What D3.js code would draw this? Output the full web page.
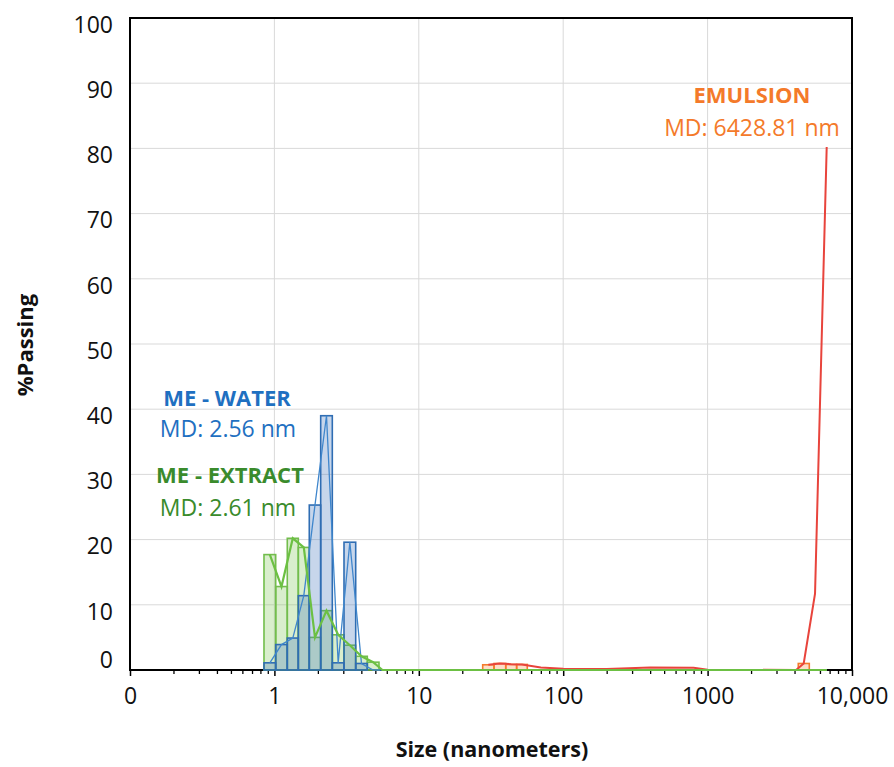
<!DOCTYPE html>
<html>
<head>
<meta charset="utf-8">
<script src="https://cdn.jsdelivr.net/npm/d3@7"></script>
<style>
  body { margin: 0; background: #fff; }
  text { font-family: "Open Sans", sans-serif; }
</style>
</head>
<body>
<div id="app"></div>
<script>
const width = 894,
  height = 767,
  margin = { top: 18, right: 42, bottom: 97, left: 130 };

// bin edges (nm) shared by the two ME samples
const binEdges = [0.847, 1.021, 1.228, 1.464, 1.744, 2.092, 2.518, 3.034, 3.656, 4.399, 5.3];
const waterValues = [1.1, 3.9, 4.9, 11.4, 25.3, 39.0, 1.1, 19.6, 1.0, 0];
const extractValues = [17.7, 12.8, 20.2, 18.8, 5.0, 9.1, 5.4, 3.8, 2.1, 1.2];

// emulsion bins and line
const emulsionEdges = [[27.7, 33.2], [33.2, 40.0], [40.0, 47.6], [47.6, 56.4], [4246, 5061]];
const emulsionValues = [0.8, 1.0, 0.85, 0.85, 1.0];
const emulsionLineSize = [30.3, 36.4, 43.6, 51.8, 70, 100, 200, 400, 800, 1000, 4100, 4630, 5546, 6680];
const emulsionLineValue = [0.8, 1.0, 0.9, 0.85, 0.4, 0.2, 0.15, 0.4, 0.35, 0.05, 0, 1.0, 11.7, 80.2];

const tailSize = [5.6, 6700]; // lines continue along zero

const xMajor = [0.1, 1, 10, 100, 1000, 10000];
const xLabels = ["0", "1", "10", "100", "1000", "10,000"];
const yTicks = [0, 10, 20, 30, 40, 50, 60, 70, 80, 90, 100];

const xScale = d3.scaleLog().domain([0.1, 10000]).range([margin.left, width - margin.right]);
const yScale = d3.scaleLinear().domain([0, 100]).range([height - margin.bottom, margin.top]);

const svg = d3.select("#app").append("svg").attr("width", width).attr("height", height);

// gridlines
svg.append("g")
  .selectAll("line")
  .data(yTicks.slice(1, -1))
  .join("line")
  .attr("x1", margin.left).attr("x2", width - margin.right)
  .attr("y1", (d) => yScale(d)).attr("y2", (d) => yScale(d))
  .attr("stroke", "#d9d9d9").attr("stroke-width", 1);
svg.append("g")
  .selectAll("line")
  .data(xMajor.slice(1, -1))
  .join("line")
  .attr("x1", (d) => xScale(d)).attr("x2", (d) => xScale(d))
  .attr("y1", margin.top).attr("y2", height - margin.bottom)
  .attr("stroke", "#d9d9d9").attr("stroke-width", 1);

// frame
svg.append("rect")
  .attr("x", margin.left).attr("y", margin.top)
  .attr("width", width - margin.left - margin.right)
  .attr("height", height - margin.top - margin.bottom)
  .attr("fill", "none").attr("stroke", "#000").attr("stroke-width", 2);

// x axis: minor and major ticks
const minor = [];
xMajor.slice(0, -1).forEach((d) => { for (let k = 2; k < 10; k++) minor.push(d * k); });
svg.append("g")
  .attr("transform", `translate(0,${height - margin.bottom})`)
  .call(d3.axisBottom(xScale).tickValues(minor).tickSize(4).tickFormat(""))
  .call((g) => g.select(".domain").remove())
  .call((g) => g.selectAll("line").attr("stroke", "#000").attr("stroke-width", 1.3));
svg.append("g")
  .attr("transform", `translate(0,${height - margin.bottom})`)
  .call(d3.axisBottom(xScale).tickValues(xMajor).tickSize(6).tickPadding(12)
    .tickFormat((d, i) => xLabels[i]))
  .call((g) => g.select(".domain").remove())
  .call((g) => g.selectAll("line").attr("stroke", "#000").attr("stroke-width", 1.5))
  .call((g) => g.selectAll("text").attr("font-size", 23).attr("fill", "#111")
    .attr("font-family", "'Open Sans', sans-serif"));

// y axis
svg.append("g")
  .attr("transform", `translate(${margin.left},0)`)
  .call(d3.axisLeft(yScale).tickValues(yTicks).tickSize(0).tickPadding(17))
  .call((g) => g.select(".domain").remove())
  .call((g) => g.selectAll("text").attr("font-size", 23).attr("fill", "#111")
    .attr("font-family", "'Open Sans', sans-serif")
    .attr("dy", (d) => (d === 0 ? "-0.1em" : "0.62em")));

const bins = (vals) => vals.map((v, i) => ({ x0: binEdges[i], x1: binEdges[i + 1], v }));

const drawBars = (data, fill, stroke) =>
  svg.append("g")
    .selectAll("rect")
    .data(data.filter((d) => d.v > 0))
    .join("rect")
    .attr("x", (d) => xScale(d.x0))
    .attr("width", (d) => xScale(d.x1) - xScale(d.x0))
    .attr("y", (d) => yScale(d.v))
    .attr("height", (d) => yScale(0) - yScale(d.v))
    .attr("fill", fill)
    .attr("stroke", stroke)
    .attr("stroke-width", 1.6);

drawBars(bins(extractValues), "rgba(130,200,90,0.30)", "#72bd4c");
drawBars(bins(waterValues), "rgba(70,120,190,0.30)", "#2f6db3");

const mid = (i) => Math.sqrt(binEdges[i] * binEdges[i + 1]);
const line = d3.line().x((d) => xScale(d[0])).y((d) => yScale(d[1]));

const extractLine = extractValues.map((v, i) => [mid(i), v]).concat(tailSize.map((s) => [s, 0]));
const waterLine = waterValues.map((v, i) => [mid(i), v]).concat(tailSize.map((s) => [s, 0]));

svg.append("path").datum(waterLine).attr("d", line)
  .attr("fill", "none").attr("stroke", "#3f86cc").attr("stroke-width", 1.3);

// emulsion
svg.append("g")
  .selectAll("rect")
  .data(emulsionEdges.map((e, i) => ({ x0: e[0], x1: e[1], v: emulsionValues[i] })))
  .join("rect")
  .attr("x", (d) => xScale(d.x0))
  .attr("width", (d) => xScale(d.x1) - xScale(d.x0))
  .attr("y", (d) => yScale(d.v))
  .attr("height", (d) => yScale(0) - yScale(d.v))
  .attr("fill", "rgba(248,160,100,0.35)")
  .attr("stroke", "#f47c2c")
  .attr("stroke-width", 1.6);
svg.append("path").datum(emulsionLineSize.map((s, i) => [s, emulsionLineValue[i]])).attr("d", line)
  .attr("fill", "none").attr("stroke", "#e8443c").attr("stroke-width", 2);

svg.append("path").datum(extractLine).attr("d", line)
  .attr("fill", "none").attr("stroke", "#6cc043").attr("stroke-width", 2.2);

// axis titles
svg.append("text")
  .attr("x", 492).attr("y", 757)
  .attr("text-anchor", "middle")
  .attr("font-size", 21.5).attr("font-weight", "bold").attr("fill", "#111")
  .text("Size (nanometers)");
svg.append("text")
  .attr("transform", "translate(33,345) rotate(-90)")
  .attr("text-anchor", "middle")
  .attr("font-size", 22).attr("font-weight", "bold").attr("fill", "#111")
  .text("%Passing");

// annotations
const notes = [
  { x: 227, y: 406, t: "ME - WATER", c: "#1f70c1", b: true },
  { x: 228, y: 437, t: "MD: 2.56 nm", c: "#1f70c1", b: false },
  { x: 230, y: 483, t: "ME - EXTRACT", c: "#3a8b2c", b: true },
  { x: 228, y: 516, t: "MD: 2.61 nm", c: "#3a8b2c", b: false },
  { x: 752, y: 103, t: "EMULSION", c: "#f47a2a", b: true },
  { x: 752, y: 136, t: "MD: 6428.81 nm", c: "#f47a2a", b: false },
];
svg.append("g")
  .selectAll("text")
  .data(notes)
  .join("text")
  .attr("x", (d) => d.x).attr("y", (d) => d.y)
  .attr("text-anchor", "middle")
  .attr("font-size", (d) => (d.b ? 22 : 23))
  .attr("font-weight", (d) => (d.b ? "bold" : "normal"))
  .attr("fill", (d) => d.c)
  .text((d) => d.t);
</script>
</body>
</html>
